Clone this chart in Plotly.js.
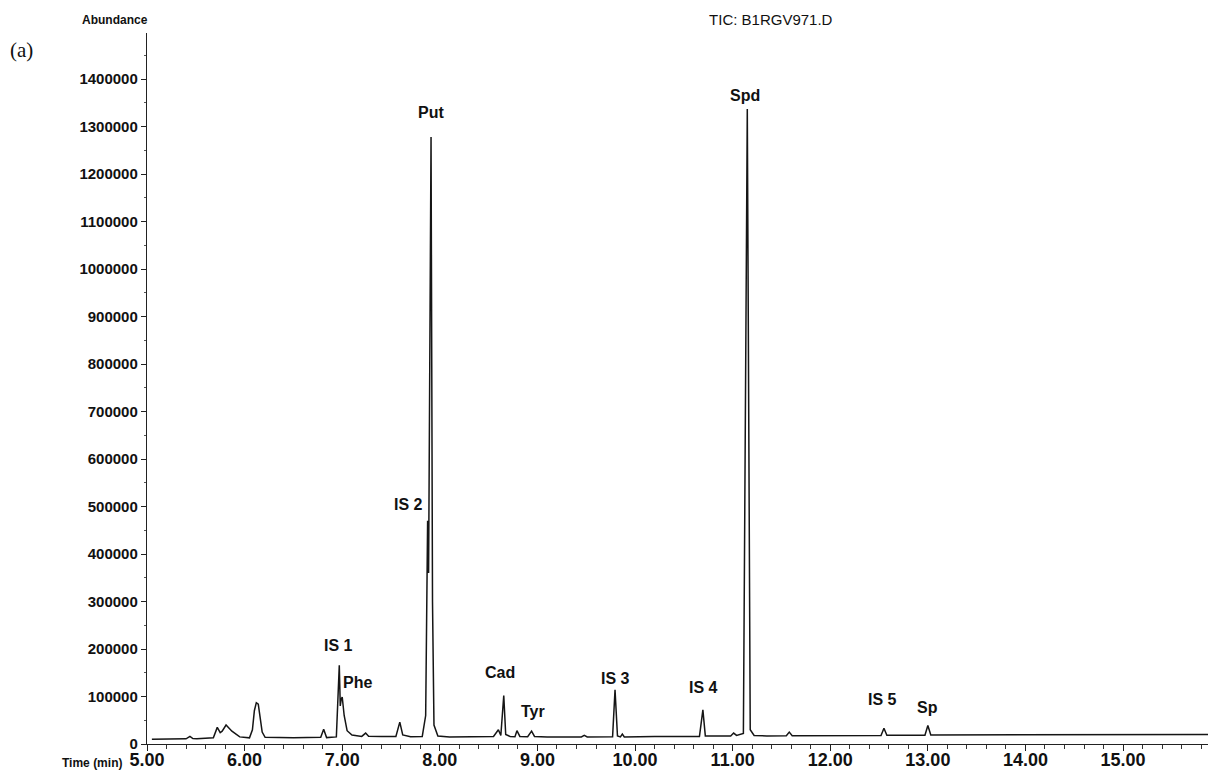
<!DOCTYPE html>
<html>
<head>
<meta charset="utf-8">
<script src="https://cdn.plot.ly/plotly-3.0.1.min.js"></script>
<style>
html,body{margin:0;padding:0;background:#fff;}
#chart{width:1210px;height:772px;}
</style>
</head>
<body>
<div id="chart"></div>
<script>
// Retention time (min) and abundance
const timeMin = [
  5.05, 5.40, 5.44, 5.47, 5.51, 5.68, 5.72, 5.75, 5.77, 5.81, 5.87, 5.95,
  6.05, 6.08, 6.10, 6.12, 6.14, 6.16, 6.18, 6.21, 6.50, 6.78, 6.81, 6.84,
  6.94, 6.97, 6.98, 6.99, 7.00, 7.02, 7.05, 7.10, 7.20, 7.24, 7.27, 7.40,
  7.55, 7.59, 7.62, 7.70, 7.82, 7.855, 7.875, 7.885, 7.91, 7.925, 7.94, 7.98, 8.10,
  8.55, 8.60, 8.625, 8.655, 8.675, 8.72, 8.77, 8.79, 8.82, 8.90, 8.94, 8.97, 9.10,
  9.45, 9.48, 9.51, 9.77, 9.795, 9.82, 9.85, 9.87, 9.89, 10.20,
  10.66, 10.695, 10.72, 10.98, 11.01, 11.04, 11.11, 11.15, 11.18, 11.22, 11.35,
  11.55, 11.58, 11.61, 12.52, 12.55, 12.58, 12.97, 13.00, 13.03, 13.10,
  14.00, 15.00, 15.87
];
const abundance = [
  10000, 11000, 16000, 11500, 11000, 13000, 35000, 24000, 27000, 40000, 27000, 15000,
  13000, 30000, 70000, 87000, 84000, 55000, 25000, 14000, 13000, 14000, 31000, 13500,
  15000, 166000, 80000, 95000, 99000, 60000, 28000, 19000, 16000, 23000, 16500, 16000,
  16000, 46000, 19000, 15500, 16000, 60000, 470000, 360000, 1278000, 300000, 40000, 17000, 15000,
  16000, 30000, 18000, 102000, 20000, 16000, 15500, 28000, 16000, 15500, 27000, 16000, 15000,
  15000, 18000, 15000, 15500, 114000, 17000, 15000, 21000, 15000, 16000,
  16000, 72000, 17000, 17000, 23000, 18000, 22000, 1337000, 30000, 18000, 17000,
  17500, 25000, 17500, 18000, 33000, 18500, 18500, 39000, 19000, 19000,
  19500, 20000, 20000
];
// Peak labels
const peakNames = ["IS 1", "Phe", "IS 2", "Put", "Cad", "Tyr", "IS 3", "IS 4", "Spd", "IS 5", "Sp"];
const peakLabelX = [6.96, 7.16, 7.68, 7.91, 8.62, 8.95, 9.80, 10.70, 11.13, 12.54, 13.00];
const peakLabelY = [208000, 130000, 505000, 1330000, 151000, 68000, 138000, 119000, 1366000, 94000, 77000];

const xTickVals = [5, 6, 7, 8, 9, 10, 11, 12, 13, 14, 15];
const yTickVals = [0, 100000, 200000, 300000, 400000, 500000, 600000, 700000, 800000, 900000, 1000000, 1100000, 1200000, 1300000, 1400000];

const FONT = "'Liberation Sans', Arial, sans-serif";

const trace = {
  x: timeMin, y: abundance, type: 'scatter', mode: 'lines',
  line: {color: '#151515', width: 1.5, shape: 'linear'},
  hoverinfo: 'skip', showlegend: false
};

const annotations = peakNames.map((t, i) => ({
  x: peakLabelX[i], y: peakLabelY[i], xref: 'x', yref: 'y',
  text: t, showarrow: false,
  font: {family: FONT, size: 16, color: '#111', weight: 'bold'}
}));
annotations.push(
  {xref: 'paper', yref: 'paper', x: -0.030, y: 1.018, xanchor: 'center', yanchor: 'middle',
   text: 'Abundance', showarrow: false, font: {family: FONT, size: 12, color: '#111', weight: 'bold'}},
  {xref: 'paper', yref: 'paper', x: -0.118, y: 0.976, xanchor: 'center', yanchor: 'middle',
   text: '(a)', showarrow: false, font: {family: "'Liberation Serif', 'Times New Roman', serif", size: 21, color: '#111'}},
  {xref: 'paper', yref: 'paper', x: -0.0215, y: -0.0265, xanchor: 'right', yanchor: 'middle',
   text: 'Time (min)', showarrow: false, font: {family: FONT, size: 12, color: '#111', weight: 'bold'}}
);

const layout = {
  width: 1210, height: 772,
  margin: {l: 147, r: 2, t: 33, b: 28, pad: 0},
  paper_bgcolor: '#fff', plot_bgcolor: '#fff',
  title: {text: 'TIC: B1RGV971.D', x: 0.637, xanchor: 'center', y: 0.974, yanchor: 'middle',
          font: {family: FONT, size: 15, color: '#111'}},
  xaxis: {
    range: [5.0, 15.87], tickvals: xTickVals, tickformat: '.2f',
    ticks: 'outside', ticklen: 6, tickwidth: 1, tickcolor: '#222',
    ticklabelstandoff: -7,
    showline: true, linecolor: '#222', linewidth: 1.2,
    showgrid: false, zeroline: false,
    tickfont: {family: FONT, size: 18, color: '#111', weight: 'bold'},
    minor: {dtick: 0.2, ticks: 'outside', ticklen: 4, tickcolor: '#333', showgrid: false}
  },
  yaxis: {
    range: [0, 1497000], tickvals: yTickVals, tickformat: 'd',
    ticks: 'outside', ticklen: 5, tickwidth: 1, tickcolor: '#222',
    showline: true, linecolor: '#222', linewidth: 1.2,
    showgrid: false, zeroline: false,
    tickfont: {family: FONT, size: 15, color: '#111', weight: 'bold'},
    minor: {dtick: 50000, ticks: 'outside', ticklen: 2, tickcolor: '#555', showgrid: false}
  },
  annotations: annotations
};

Plotly.newPlot('chart', [trace], layout, {staticPlot: true, displayModeBar: false});
</script>
</body>
</html>
